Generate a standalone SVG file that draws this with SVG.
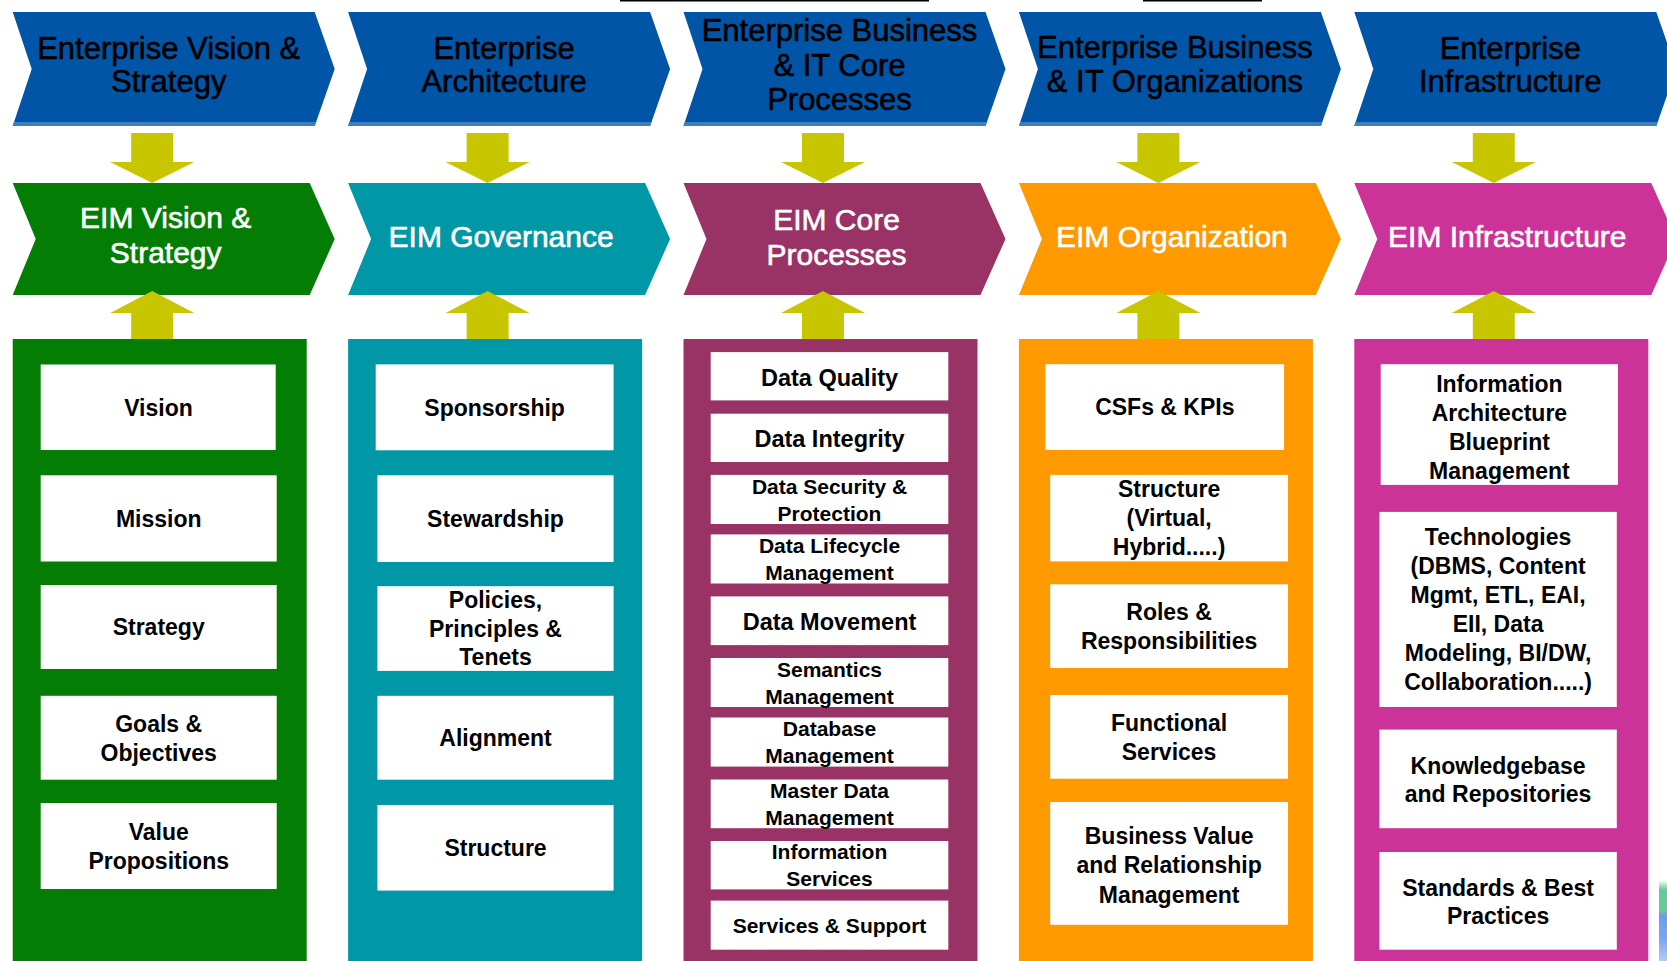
<svg xmlns="http://www.w3.org/2000/svg" xmlns:xlink="http://www.w3.org/1999/xlink" width="1667" height="961" viewBox="0 0 1667 961">
<defs>
<style>
.hdr{font-family:"Liberation Sans",Arial,sans-serif;font-size:31px;text-anchor:middle;fill:#000;stroke:#000;stroke-width:0.6px}
.eim{font-family:"Liberation Sans",Arial,sans-serif;font-size:30px;text-anchor:middle;fill:#fff;stroke:#fff;stroke-width:0.6px}
.box{fill:#fff}
.bt{font-family:"Liberation Sans",Arial,sans-serif;font-weight:bold;font-size:23px;text-anchor:middle;fill:#000}
.s1{font-size:23.5px}
.s2{font-size:21px}
.band{fill:#3f7cc4}
.blue{fill:#0055a6}
.arrow{fill:#c8c600}
</style>
<path id="chevTop" d="M0,12 L302,12 L322,69 L302,126 L0,126 L19,69 Z"/>
<path id="chevTopBand" d="M1.3,122 L303.4,122 L302,126 L0,126 Z"/>
<path id="chevEim" d="M0,183 L297,183 L322,239 L297,295 L0,295 L23,239 Z"/>
<path id="arrDown" d="M-21,133 H21 V162 H42 L0,183 L-42,162 H-21 Z"/>
<path id="arrUp" d="M0,291 L42,313 H21 V339 H-21 V313 H-42 Z"/>
<linearGradient id="sliver" x1="0" y1="0" x2="0" y2="1">
<stop offset="0" stop-color="#ffffff"/>
<stop offset="0.12" stop-color="#66c99a"/>
<stop offset="0.38" stop-color="#66c99a"/>
<stop offset="0.45" stop-color="#6d9bf0"/>
<stop offset="0.75" stop-color="#7ea8f0"/>
<stop offset="1" stop-color="#b0cdf2"/>
</linearGradient>
</defs>
<rect width="1667" height="961" fill="#fff"/>
<rect x="620" y="0" width="309" height="1.5" fill="#000"/>
<rect x="1143" y="0" width="119" height="1.5" fill="#000"/>
<rect x="1659" y="880" width="8" height="81" fill="url(#sliver)"/>

<!-- Top row: Enterprise chevrons -->
<g id="ent-vision">
<use xlink:href="#chevTop" x="12.7" class="blue"/>
<use xlink:href="#chevTopBand" x="12.7" class="band"/>
<text class="hdr" x="168.7" y="59">Enterprise Vision &amp;</text>
<text class="hdr" x="168.7" y="92">Strategy</text>
</g>
<g id="ent-architecture">
<use xlink:href="#chevTop" x="348.1" class="blue"/>
<use xlink:href="#chevTopBand" x="348.1" class="band"/>
<text class="hdr" x="504.1" y="59">Enterprise</text>
<text class="hdr" x="504.1" y="92">Architecture</text>
</g>
<g id="ent-processes">
<use xlink:href="#chevTop" x="683.5" class="blue"/>
<use xlink:href="#chevTopBand" x="683.5" class="band"/>
<text class="hdr" x="839.5" y="41">Enterprise Business</text>
<text class="hdr" x="839.5" y="76">&amp; IT Core</text>
<text class="hdr" x="839.5" y="110">Processes</text>
</g>
<g id="ent-organizations">
<use xlink:href="#chevTop" x="1018.9" class="blue"/>
<use xlink:href="#chevTopBand" x="1018.9" class="band"/>
<text class="hdr" x="1174.9" y="58">Enterprise Business</text>
<text class="hdr" x="1174.9" y="92">&amp; IT Organizations</text>
</g>
<g id="ent-infrastructure">
<use xlink:href="#chevTop" x="1354.3" class="blue"/>
<use xlink:href="#chevTopBand" x="1354.3" class="band"/>
<text class="hdr" x="1510.3" y="59">Enterprise</text>
<text class="hdr" x="1510.3" y="92">Infrastructure</text>
</g>

<!-- Second row: EIM chevrons -->
<g id="eim-vision">
<use xlink:href="#chevEim" x="12.7" fill="#047d04"/>
<text class="eim" x="165.7" y="228">EIM Vision &amp;</text>
<text class="eim" x="165.7" y="263">Strategy</text>
</g>
<g id="eim-governance">
<use xlink:href="#chevEim" x="348.1" fill="#0097a6"/>
<text class="eim" x="501.1" y="247">EIM Governance</text>
</g>
<g id="eim-core">
<use xlink:href="#chevEim" x="683.5" fill="#993366"/>
<text class="eim" x="836.5" y="230">EIM Core</text>
<text class="eim" x="836.5" y="265">Processes</text>
</g>
<g id="eim-organization">
<use xlink:href="#chevEim" x="1018.9" fill="#ff9900"/>
<text class="eim" x="1171.9" y="247">EIM Organization</text>
</g>
<g id="eim-infrastructure">
<use xlink:href="#chevEim" x="1354.3" fill="#cc3399"/>
<text class="eim" x="1507.3" y="247">EIM Infrastructure</text>
</g>

<!-- Panels -->
<g id="panel-vision"><rect x="12.7" y="339" width="294" height="622" fill="#047d04"/></g>
<g id="panel-governance"><rect x="348.1" y="339" width="294" height="622" fill="#0097a6"/></g>
<g id="panel-core"><rect x="683.5" y="339" width="294" height="622" fill="#993366"/></g>
<g id="panel-organization"><rect x="1018.9" y="339" width="294" height="622" fill="#ff9900"/></g>
<g id="panel-infrastructure"><rect x="1354.3" y="339" width="294" height="622" fill="#cc3399"/></g>

<!-- Connectors -->
<g id="connectors">
<use xlink:href="#arrDown" x="152.2" class="arrow"/>
<use xlink:href="#arrDown" x="487.6" class="arrow"/>
<use xlink:href="#arrDown" x="823" class="arrow"/>
<use xlink:href="#arrDown" x="1158.4" class="arrow"/>
<use xlink:href="#arrDown" x="1493.8" class="arrow"/>
<use xlink:href="#arrUp" x="152.2" class="arrow"/>
<use xlink:href="#arrUp" x="487.6" class="arrow"/>
<use xlink:href="#arrUp" x="823" class="arrow"/>
<use xlink:href="#arrUp" x="1158.4" class="arrow"/>
<use xlink:href="#arrUp" x="1493.8" class="arrow"/>
</g>

<!-- Column 1 boxes -->
<g id="box-vision"><rect class="box" x="40.7" y="364.5" width="235" height="85.5"/><text class="bt" x="158.5" y="415.5">Vision</text></g>
<g id="box-mission"><rect class="box" x="40.7" y="475.3" width="236" height="86.2"/><text class="bt" x="158.7" y="526.6">Mission</text></g>
<g id="box-strategy"><rect class="box" x="40.7" y="585" width="236" height="84"/><text class="bt" x="158.7" y="635.2">Strategy</text></g>
<g id="box-goals"><rect class="box" x="40.7" y="695.8" width="236" height="83.9"/><text class="bt" x="158.7" y="731.5">Goals &amp;</text><text class="bt" x="158.7" y="760.5">Objectives</text></g>
<g id="box-value"><rect class="box" x="40.7" y="803" width="236" height="86"/><text class="bt" x="158.7" y="839.7">Value</text><text class="bt" x="158.7" y="868.7">Propositions</text></g>

<!-- Column 2 boxes -->
<g id="box-sponsorship"><rect class="box" x="375.7" y="364.4" width="237.9" height="85.9"/><text class="bt" x="494.6" y="415.6">Sponsorship</text></g>
<g id="box-stewardship"><rect class="box" x="377.4" y="475.3" width="236.2" height="86.7"/><text class="bt" x="495.5" y="526.9">Stewardship</text></g>
<g id="box-policies"><rect class="box" x="377.4" y="586.2" width="236.2" height="84.7"/><text class="bt" x="495.5" y="608.2">Policies,</text><text class="bt" x="495.5" y="636.8">Principles &amp;</text><text class="bt" x="495.5" y="665.2">Tenets</text></g>
<g id="box-alignment"><rect class="box" x="377.4" y="695.8" width="236.2" height="83.9"/><text class="bt" x="495.5" y="746">Alignment</text></g>
<g id="box-structure"><rect class="box" x="377.4" y="805" width="236.2" height="85.6"/><text class="bt" x="495.5" y="856">Structure</text></g>

<!-- Column 3 boxes -->
<g id="box-quality"><rect class="box" x="710.7" y="352.1" width="237.6" height="48.3"/><text class="bt s1" x="829.5" y="385.7">Data Quality</text></g>
<g id="box-integrity"><rect class="box" x="710.7" y="413.7" width="237.6" height="48.3"/><text class="bt s1" x="829.5" y="447">Data Integrity</text></g>
<g id="box-security"><rect class="box" x="710.7" y="474.9" width="237.6" height="49.1"/><text class="bt s2" x="829.5" y="493.5">Data Security &amp;</text><text class="bt s2" x="829.5" y="520.5">Protection</text></g>
<g id="box-lifecycle"><rect class="box" x="710.7" y="534.4" width="237.6" height="49.1"/><text class="bt s2" x="829.5" y="553">Data Lifecycle</text><text class="bt s2" x="829.5" y="580">Management</text></g>
<g id="box-movement"><rect class="box" x="710.7" y="596.4" width="237.6" height="48.7"/><text class="bt s1" x="829.5" y="629.5">Data Movement</text></g>
<g id="box-semantics"><rect class="box" x="710.7" y="658" width="237.6" height="49"/><text class="bt s2" x="829.5" y="676.5">Semantics</text><text class="bt s2" x="829.5" y="703.5">Management</text></g>
<g id="box-database"><rect class="box" x="710.7" y="717.5" width="237.6" height="49.1"/><text class="bt s2" x="829.5" y="736">Database</text><text class="bt s2" x="829.5" y="763">Management</text></g>
<g id="box-master"><rect class="box" x="710.7" y="779.5" width="237.6" height="48.7"/><text class="bt s2" x="829.5" y="797.9">Master Data</text><text class="bt s2" x="829.5" y="824.9">Management</text></g>
<g id="box-infoservices"><rect class="box" x="710.7" y="841" width="237.6" height="48.4"/><text class="bt s2" x="829.5" y="859.2">Information</text><text class="bt s2" x="829.5" y="886.2">Services</text></g>
<g id="box-support"><rect class="box" x="710.7" y="900.6" width="237.6" height="49.1"/><text class="bt s2" x="829.5" y="932.7">Services &amp; Support</text></g>

<!-- Column 4 boxes -->
<g id="box-csfs"><rect class="box" x="1045.5" y="364.2" width="238.6" height="85.7"/><text class="bt" x="1164.8" y="415.2">CSFs &amp; KPIs</text></g>
<g id="box-orgstructure"><rect class="box" x="1050.2" y="474.9" width="237.8" height="86.5"/><text class="bt" x="1169.1" y="497.4">Structure</text><text class="bt" x="1169.1" y="526.4">(Virtual,</text><text class="bt" x="1169.1" y="555.4">Hybrid.....)</text></g>
<g id="box-roles"><rect class="box" x="1050.2" y="584.3" width="237.8" height="83.7"/><text class="bt" x="1169.1" y="619.9">Roles &amp;</text><text class="bt" x="1169.1" y="648.9">Responsibilities</text></g>
<g id="box-functional"><rect class="box" x="1050.2" y="695" width="237.8" height="83.7"/><text class="bt" x="1169.1" y="730.6">Functional</text><text class="bt" x="1169.1" y="759.6">Services</text></g>
<g id="box-business"><rect class="box" x="1050.2" y="802" width="237.8" height="122.8"/><text class="bt" x="1169.1" y="844.4">Business Value</text><text class="bt" x="1169.1" y="873.4">and Relationship</text><text class="bt" x="1169.1" y="902.8">Management</text></g>

<!-- Column 5 boxes -->
<g id="box-infoarch"><rect class="box" x="1380.7" y="364.2" width="237.3" height="120.7"/><text class="bt" x="1499.4" y="392.2">Information</text><text class="bt" x="1499.4" y="421.2">Architecture</text><text class="bt" x="1499.4" y="450.2">Blueprint</text><text class="bt" x="1499.4" y="479.2">Management</text></g>
<g id="box-technologies"><rect class="box" x="1379.4" y="511.9" width="237.4" height="195.1"/><text class="bt" x="1498.1" y="545.2">Technologies</text><text class="bt" x="1498.1" y="574.2">(DBMS, Content</text><text class="bt" x="1498.1" y="603.2">Mgmt, ETL, EAI,</text><text class="bt" x="1498.1" y="632.2">EII, Data</text><text class="bt" x="1498.1" y="661.2">Modeling, BI/DW,</text><text class="bt" x="1498.1" y="690.2">Collaboration.....)</text></g>
<g id="box-knowledge"><rect class="box" x="1379.4" y="729.6" width="237.4" height="98.6"/><text class="bt" x="1498.1" y="774.2">Knowledgebase</text><text class="bt" x="1498.1" y="802.2">and Repositories</text></g>
<g id="box-standards"><rect class="box" x="1379.4" y="852" width="237.4" height="97.7"/><text class="bt" x="1498.1" y="895.5">Standards &amp; Best</text><text class="bt" x="1498.1" y="923.7">Practices</text></g>
</svg>
